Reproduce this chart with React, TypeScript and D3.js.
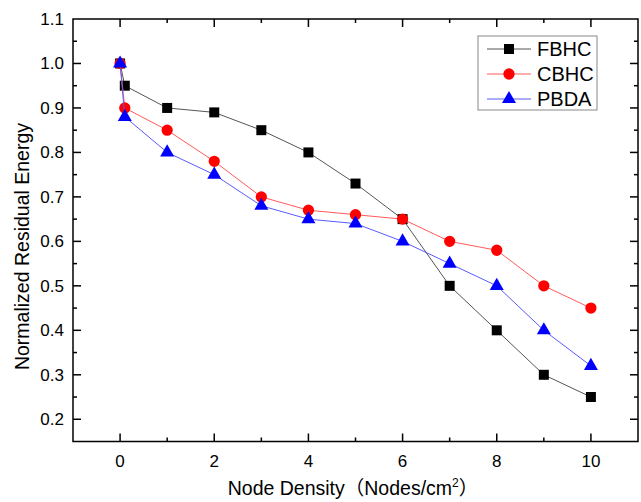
import React, { useRef, useEffect } from "react";
import * as d3 from "d3";

// node density values (x) and residual energy of each protocol
const density = [0, 0.1, 1, 2, 3, 4, 5, 6, 7, 8, 9, 10];
const fbhc = [1.0, 0.95, 0.9, 0.89, 0.85, 0.8, 0.73, 0.65, 0.5, 0.4, 0.3, 0.25];
const cbhc = [1.0, 0.9, 0.85, 0.78, 0.7, 0.67, 0.66, 0.65, 0.6, 0.58, 0.5, 0.45];
const pbda = [1.0, 0.88, 0.8, 0.75, 0.68, 0.65, 0.64, 0.6, 0.55, 0.5, 0.4, 0.32];
const seriesNames = ["FBHC", "CBHC", "PBDA"];
const xTicks = [0, 2, 4, 6, 8, 10];
const yTicks = [0.2, 0.3, 0.4, 0.5, 0.6, 0.7, 0.8, 0.9, 1.0, 1.1];

const FONT = "'Liberation Sans', Arial, 'Noto Sans CJK SC', sans-serif";

const App = () => {
  const svgRef = useRef<SVGSVGElement>(null);

  useEffect(() => {
    const svg = d3.select(svgRef.current);
    svg.selectAll("*").remove();

    const left = 73, right = 638, top = 19, bottom = 441.5;
    const x = d3.scaleLinear().domain([-1, 11]).range([left, right]);
    const y = d3.scaleLinear().domain([0.15, 1.1]).range([bottom, top]);

    const series = [
      { name: seriesNames[0], values: fbhc, line: "#555555", fill: "#000000", shape: d3.symbolSquare, size: 100 },
      { name: seriesNames[1], values: cbhc, line: "#ff5a5a", fill: "#ff0000", shape: d3.symbolCircle, size: 100 },
      { name: seriesNames[2], values: pbda, line: "#5a5aff", fill: "#0000ff", shape: d3.symbolTriangle, size: 85 },
    ];

    // lines and markers
    series.forEach((s) => {
      const pts = density.map((d, i) => [d, s.values[i]] as [number, number]);
      svg
        .append("path")
        .datum(pts)
        .attr("fill", "none")
        .attr("stroke", s.line)
        .attr("stroke-width", 1)
        .attr(
          "d",
          d3
            .line<[number, number]>()
            .x((d) => x(d[0]))
            .y((d) => y(d[1]))
        );
      svg
        .append("g")
        .selectAll("path")
        .data(pts)
        .join("path")
        .attr("transform", (d) => `translate(${x(d[0])},${y(d[1])})`)
        .attr("d", d3.symbol().type(s.shape).size(s.size)())
        .attr("fill", s.fill);
    });

    // axes, ticks pointing inward
    const axisG = svg.append("g").attr("font-family", FONT);
    const tick = (x1: number, y1: number, x2: number, y2: number) =>
      axisG
        .append("line")
        .attr("x1", x1)
        .attr("y1", y1)
        .attr("x2", x2)
        .attr("y2", y2)
        .attr("stroke", "black")
        .attr("stroke-width", 1.5);

    d3.range(-1, 12, 1).forEach((v) => {
      if (v <= -1 || v >= 11) return;
      const len = v % 2 === 0 ? 8 : 4;
      tick(x(v), bottom, x(v), bottom - len);
      tick(x(v), top, x(v), top + len);
    });
    d3.range(0.15, 1.1, 0.05).forEach((v) => {
      if (v < 0.16) return;
      const major = Math.abs(Math.round(v * 10) - v * 10) < 0.01;
      const len = major ? 8 : 4;
      tick(left, y(v), left + len, y(v));
      tick(right, y(v), right - len, y(v));
    });

    axisG
      .append("rect")
      .attr("x", left)
      .attr("y", top)
      .attr("width", right - left)
      .attr("height", bottom - top)
      .attr("fill", "none")
      .attr("stroke", "black")
      .attr("stroke-width", 1.5);

    axisG
      .selectAll(".xt")
      .data(xTicks)
      .join("text")
      .attr("x", (d) => x(d))
      .attr("y", bottom + 25)
      .attr("text-anchor", "middle")
      .attr("font-size", 17)
      .text((d) => d);

    axisG
      .selectAll(".yt")
      .data(yTicks)
      .join("text")
      .attr("x", left - 9)
      .attr("y", (d) => y(d) + 6)
      .attr("text-anchor", "end")
      .attr("font-size", 17)
      .text((d) => d.toFixed(1));

    const xl = axisG
      .append("text")
      .attr("x", 353)
      .attr("y", 495)
      .attr("text-anchor", "middle")
      .attr("font-size", 19.5);
    xl.append("tspan").text("Node Density（Nodes/cm");
    xl.append("tspan").attr("dy", -8).attr("font-size", 12).text("2");
    xl.append("tspan").attr("dy", 8).text("）");

    axisG
      .append("text")
      .attr("transform", `translate(29,246.5) rotate(-90)`)
      .attr("text-anchor", "middle")
      .attr("font-size", 19.5)
      .text("Normalized Residual Energy");

    // legend
    const lg = svg.append("g").attr("font-family", FONT);
    lg.append("rect")
      .attr("x", 478)
      .attr("y", 36)
      .attr("width", 119)
      .attr("height", 74)
      .attr("fill", "white")
      .attr("stroke", "#888888")
      .attr("stroke-width", 1);
    series.forEach((s, i) => {
      const cy = 49 + i * 25;
      lg.append("line")
        .attr("x1", 487)
        .attr("x2", 531)
        .attr("y1", cy)
        .attr("y2", cy)
        .attr("stroke", s.line)
        .attr("stroke-width", 1);
      lg.append("path")
        .attr("transform", `translate(509,${cy})`)
        .attr("d", d3.symbol().type(s.shape).size(s.size)())
        .attr("fill", s.fill);
      lg.append("text")
        .attr("x", 537)
        .attr("y", cy + 7)
        .attr("font-size", 20)
        .text(s.name);
    });
  }, []);

  return (
    <svg
      ref={svgRef}
      width={641}
      height={502}
      style={{ position: "absolute", left: 0, top: 0, background: "white" }}
    ></svg>
  );
};

export default App;
